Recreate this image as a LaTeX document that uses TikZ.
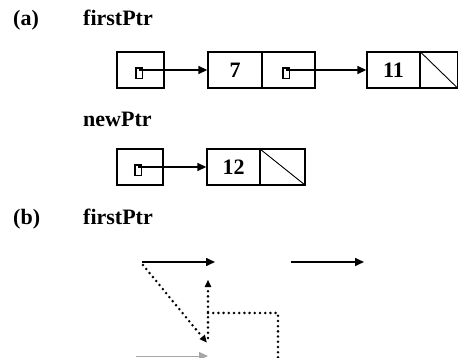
\documentclass[tikz,border=0pt]{standalone}
\usepackage{fontspec}
\setmainfont{Liberation Serif}
\usetikzlibrary{arrows.meta,calc}
\begin{document}
\begin{tikzpicture}[x=1pt,y=-1pt,
  lbl/.style={anchor=base west, inner sep=0pt, font=\fontsize{22}{26}\selectfont\bfseries},
  cell/.style={draw, line width=1.4pt, minimum height=36pt, inner sep=0pt, font=\fontsize{22}{26}\selectfont\bfseries},
  nullcell/.style={cell, path picture={\draw[line width=0.9pt] (path picture bounding box.north west) -- (path picture bounding box.south east);}},
  glyph/.style={draw, line width=1.2pt, minimum width=7pt, minimum height=11pt, inner sep=0pt, fill=white,
     path picture={\draw[line width=3pt] (path picture bounding box.south west) -- (path picture bounding box.north west) -- (path picture bounding box.north east);}},
  arr/.style={line width=1.6pt, -{Triangle[length=9pt,width=8pt]}},
  dots/.style={line width=2.8pt, line cap=round, dash pattern=on 0pt off 5.2pt}
]
\useasboundingbox (0,0) rectangle (459,358);
\clip (0,0) rectangle (459,358);
% (a)
\node[lbl] (la) at (13,26) {(a)};
\node[lbl] (fp1) at (83,26) {firstPtr};
\node[cell, minimum width=47pt] (pA) at (140.5,70) {};
\node[cell, minimum width=54pt] (d7) at (235,70) {7};
\node[cell, minimum width=53pt] (p7) at (288.5,70) {};
\node[cell, minimum width=53pt] (d11) at (393.5,70) {11};
\node[nullcell, minimum width=37pt] (n11) at (439,70) {};
\node[glyph] (gA) at (139,73) {};
\node[glyph] (g7) at (286,73) {};
\draw[arr] (gA.center |- d7.west) -- (d7.west);
\draw[arr] (g7.center |- d11.west) -- (d11.west);
\node[lbl] (np) at (83,127) {newPtr};
\node[cell, minimum width=46pt] (pB) at (140,167) {};
\node[cell, minimum width=53pt] (d12) at (233.5,167) {12};
\node[nullcell, minimum width=45pt] (n12) at (282.5,167) {};
\node[glyph] (gB) at (138,170) {};
\draw[arr] (gB.center |- d12.west) -- (d12.west);
% (b)
\node[lbl] (lb) at (13,225) {(b)};
\node[lbl] (fp2) at (83,225) {firstPtr};
\coordinate (b1) at (142,262);
\coordinate (b2) at (215,262);
\coordinate (b3) at (291,262);
\coordinate (b4) at (364,262);
\coordinate (c1) at (143,265);
\coordinate (c2) at (208,344);
\coordinate (v1) at (208,338);
\coordinate (v2) at (208,278);
\coordinate (h1) at (208,313);
\coordinate (h2) at (278,313);
\coordinate (h3) at (278,362);
\coordinate (e1) at (136,356);
\coordinate (e2) at (208,356);
\draw[arr] (b1) -- (b2);
\draw[arr] (b3) -- (b4);
\draw[dots] (c1) -- ($(c1)!0.9!(c2)$);
\draw[line width=1.6pt, -{Triangle[length=10pt,width=9pt]}, draw opacity=0] (c1) -- (c2);
\draw[dots] (v1) -- (208,288);
\draw[line width=1.6pt, -{Triangle[length=10pt,width=9pt]}, draw opacity=0] (v1) -- (v2);
\draw[dots] (h1) -- (h2) -- (h3);
\draw[line width=0.9pt, gray!70, -{Triangle[length=9pt,width=8pt]}] (e1) -- (e2);
\end{tikzpicture}
\end{document}
